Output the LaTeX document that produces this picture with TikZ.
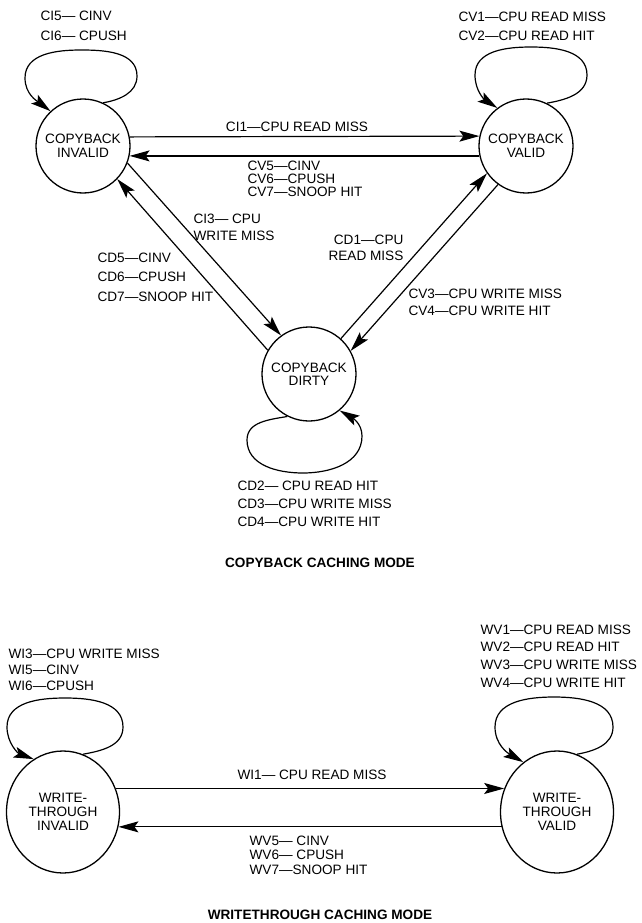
\documentclass[tikz,border=0pt]{standalone}
\usepackage{fontspec}
\setmainfont{Liberation Sans}
\usetikzlibrary{arrows.meta,shapes.geometric}
\begin{document}
\begin{tikzpicture}[x=1pt,y=-1pt,
  line width=1.2pt,
  arr/.style={-{Stealth[length=20pt,width=11pt,inset=4pt]}},
  st/.style={circle,draw,line width=1.3pt,minimum size=94pt,inner sep=0pt,align=center,font=\fontsize{13.6}{14}\selectfont},
  wst/.style={ellipse,draw,line width=1.3pt,minimum width=113pt,minimum height=122pt,inner sep=0pt,align=center,font=\fontsize{13.6}{14}\selectfont},
  lab/.style={inner sep=0pt,align=left,anchor=north west,font=\fontsize{13.6}{#1}\selectfont},
  lab/.default=19,
  one/.style={inner sep=0pt,font=\fontsize{13.6}{16}\selectfont},
  ttl/.style={inner sep=0pt,font=\fontsize{13.6}{16}\selectfont\bfseries}
]
\useasboundingbox (0,0) rectangle (641,923);

% ---------- copyback ----------
\node[st] (ci) at (83,146) {COPYBACK\\INVALID};
\node[st] (cv) at (526,146) {COPYBACK\\VALID};
\node[st,font=\fontsize{13.6}{12.5}\selectfont] (cd) at (309,374) {COPYBACK\\DIRTY};

% self loops
\draw[arr] (ci.65) to[out=10,in=-90] (137,76) to[out=90,in=0] (81,50)
  to[out=180,in=90] (25,78) to[out=-90,in=143] (ci.133);
\draw[arr] (cv.64) to[out=10,in=-90] (587,75) to[out=90,in=0] (531,47)
  to[out=180,in=90] (475,75) to[out=-90,in=147] (cv.127);
\draw[arr] (cd.243) to[out=190,in=90] (247,440) to[out=-90,in=180] (303,473)
  to[out=0,in=-90] (362,436) to[out=90,in=-30] (cd.-50);

% horizontal
\draw[arr] (ci.11.04) -- (cv.168.96);
\draw[arr] (cv.192.3) -- (ci.-12.3);
% invalid <-> dirty
\draw[arr] (cd.150.3) -- (ci.-44);
\draw[arr] (ci.-21.2) -- (cd.126.6);
% valid <-> dirty
\draw[arr] (cd.48.3) -- (cv.-145.3);
\draw[arr] (cv.-126.6) -- (cd.29.2);

% labels
\node[lab=20] (l1) at (40,10) {CI5— CINV\\CI6— CPUSH};
\node[lab=19] (l2) at (458,11) {CV1—CPU READ MISS\\CV2—CPU READ HIT};
\node[one] (l3) at (297,127) {CI1—CPU READ MISS};
\node[lab=13] (l4) at (247,160) {CV5—CINV\\CV6—CPUSH\\CV7—SNOOP HIT};
\node[lab=17] (l5) at (193,213) {CI3— CPU\\WRITE MISS};
\node[lab=19.5] (l6) at (97,252) {CD5—CINV\\CD6—CPUSH\\CD7—SNOOP HIT};
\node[lab=16,align=right,anchor=north east] (l7) at (404,234) {CD1—CPU\\READ MISS};
\node[lab=17] (l8) at (408,288) {CV3—CPU WRITE MISS\\CV4—CPU WRITE HIT};
\node[lab=18] (l9) at (237,480) {CD2— CPU READ HIT\\CD3—CPU WRITE MISS\\CD4—CPU WRITE HIT};
\node[ttl] (t1) at (320,563) {COPYBACK CACHING MODE};

% ---------- writethrough ----------
\node[wst] (wi) at (63,812) {WRITE-\\THROUGH\\INVALID};
\node[wst] (wv) at (557,812) {WRITE-\\THROUGH\\VALID};

\draw[arr] (wi.71) to[out=10,in=-90] (123,727) to[out=90,in=0] (65,698)
  to[out=180,in=90] (7,727) to[out=-90,in=160] (wi.119);
\draw[arr] (wv.71) to[out=10,in=-90] (613,727) to[out=90,in=0] (554,697)
  to[out=180,in=90] (495,727) to[out=-90,in=150] (wv.124);

\draw[arr] (wi.24) -- (wv.156);
\draw[arr] (wv.195.5) -- (wi.-15.5);

\node[lab=16] (l11) at (8,648) {WI3—CPU WRITE MISS\\WI5—CINV\\WI6—CPUSH};
\node[lab=17.7] (l12) at (480,624) {WV1—CPU READ MISS\\WV2—CPU READ HIT\\WV3—CPU WRITE MISS\\WV4—CPU WRITE HIT};
\node[one] (l13) at (312,775) {WI1— CPU READ MISS};
\node[lab=14.5] (l14) at (249,835) {WV5— CINV\\WV6— CPUSH\\WV7—SNOOP HIT};
\node[ttl] (t2) at (320,915) {WRITETHROUGH CACHING MODE};
\end{tikzpicture}
\end{document}
